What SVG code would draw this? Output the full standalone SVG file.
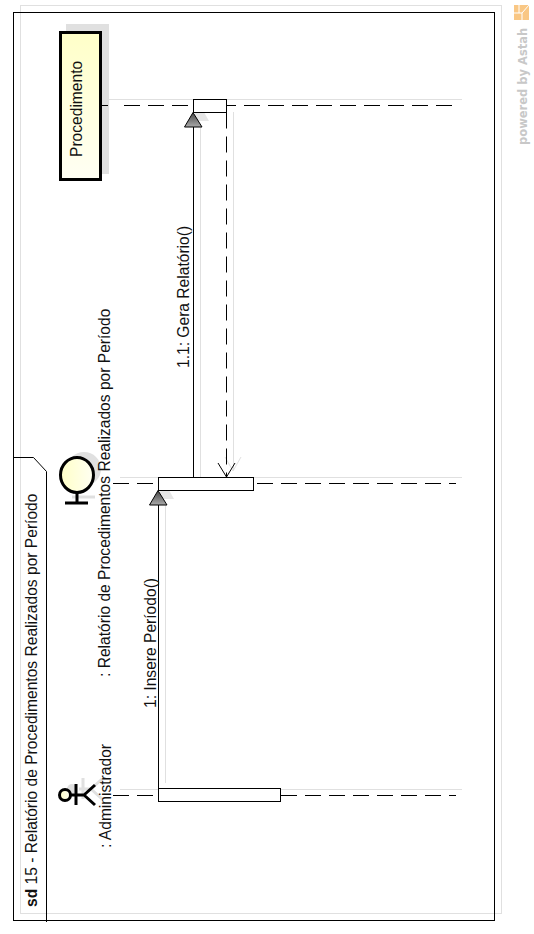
<svg xmlns="http://www.w3.org/2000/svg" width="534" height="934" viewBox="0 0 534 934">
<style>
text{font-family:"Liberation Sans",Arial,sans-serif;font-size:15.6px;fill:#111}
.sh{fill:none;stroke:#e0e0e0;stroke-width:1}
.shf{fill:#e0e0e0;stroke:none}
.shk{fill:none;stroke:#e0e0e0;stroke-width:3}
.ln{fill:none;stroke:#000;stroke-width:1}
.life{fill:none;stroke:#000;stroke-width:1;stroke-dasharray:16 8}
.act{fill:#fff;stroke:#000;stroke-width:1}
.thick{stroke:#000;stroke-width:3}
.tri{fill:url(#g2);stroke:#000;stroke-width:1}
</style>
<defs>
<linearGradient id="g1" x1="0" y1="0" x2="1" y2="0"><stop offset="0" stop-color="#ffffc8"/><stop offset="1" stop-color="#fffff2"/></linearGradient>
<linearGradient id="g3" x1="0" y1="0" x2="0" y2="1"><stop offset="0" stop-color="#ffffc8"/><stop offset="1" stop-color="#fffff4"/></linearGradient>
<linearGradient id="g2" x1="0" y1="0" x2="0" y2="1"><stop offset="0" stop-color="#444"/><stop offset="1" stop-color="#aaa"/></linearGradient>
</defs>
<rect width="534" height="934" fill="#fff"/>
<g id="frame">
<rect x="20.5" y="5.5" width="481" height="908" class="sh"/>
<rect x="13.5" y="12.5" width="481" height="908" fill="none" stroke="#000"/>
<path d="M13.5 457.5H33.5L46.5 471.5V922" class="ln"/>
<text transform="translate(36.5 907) rotate(-90)"><tspan font-weight="bold">sd</tspan> 15 - Relatório de Procedimentos Realizados por Período</text>
</g>
<g id="node-procedimento">
<rect x="66" y="24" width="43" height="150" fill="#e0e0e0"/>
<rect x="60.5" y="32.5" width="40" height="147" fill="url(#g3)" class="thick"/>
<text transform="translate(81.5 157) rotate(-90)">Procedimento</text>
</g>
<g id="node-boundary">
<circle cx="84" cy="469" r="17" fill="#e0e0e0"/>
<path d="M72 497H95" class="shk"/>
<ellipse cx="77" cy="475" rx="16.5" ry="17.5" fill="url(#g1)" class="thick"/>
<path d="M77 493V503M65 503H88" fill="none" class="thick"/>
<text transform="translate(110 677) rotate(-90)">: Relatório de Procedimentos Realizados por Período</text>
</g>
<g id="node-actor">
<circle cx="72" cy="789" r="5" fill="#e0e0e0"/>
<path d="M79 789H91M83 778V799M91 789L102 779M91 789L102 799" class="shk"/>
<circle cx="65" cy="795" r="5.5" fill="url(#g1)" class="thick"/>
<path d="M71 795H84M76 784V805M84 795L95 785M84 795L95 805" fill="none" class="thick"/>
<text transform="translate(111 848) rotate(-90)">: Administrador</text>
</g>
<g id="connectors">
<path d="M106 99.5H462M120 477.5H462M120 789.5H462" class="sh"/>
<path d="M200.5 127V477M233.5 112V470M165.5 505V783" class="sh"/>
<path d="M225 457L233 471L241 457" class="sh"/>
<path d="M200 105L209 121H191Z" class="shf" opacity=".8"/>
<path d="M165 483L174 499H156Z" class="shf" opacity=".8"/>
<path d="M102 105.5H108" class="ln"/>
<path d="M124 105.5H453" class="life"/>
<path d="M113 483.5H456M113 795.5H456" class="life"/>
<path d="M193.5 127V477.5M158.5 505V788.5" class="ln"/>
<path d="M226.5 112.5V477" class="life"/>
<path d="M218 463L226.5 477L235 463" class="ln"/>
<path d="M193 112.5L184.5 127H202Z" class="tri"/>
<path d="M158 490.5L149.5 505H167Z" class="tri"/>
</g>
<g id="activations">
<rect x="193.5" y="99.5" width="33" height="13" class="act"/>
<rect x="158.5" y="477.5" width="95" height="13" class="act"/>
<rect x="158.5" y="788.5" width="122" height="13" class="act"/>
</g>
<g id="labels">
<text transform="translate(155.5 708) rotate(-90)">1: Insere Período()</text>
<text transform="translate(189 368) rotate(-90)">1.1: Gera Relatório()</text>
</g>
<g id="watermark">
<rect x="514" y="5" width="15" height="15" fill="#f9c784"/>
<path d="M519 5V13M514 13H522L529 5M522 13V20" stroke="#fff" fill="none"/>
<text transform="translate(526.5 145) rotate(-90)" style="font-family:'DejaVu Sans',sans-serif;font-weight:bold;fill:#c8c8c8;font-size:11.5px">powered by Astah</text>
</g>
</svg>
